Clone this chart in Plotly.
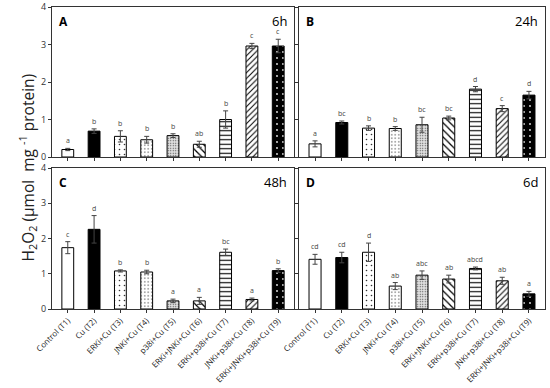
import plotly.graph_objects as go

categories = ["Control (T1)", "Cu (T2)", "ERKi+Cu (T3)", "JNKi+Cu (T4)", "p38i+Cu (T5)",
              "ERKi+JNKi+Cu (T6)", "ERKi+p38i+Cu (T7)", "JNKi+p38i+Cu (T8)", "ERKi+JNKi+p38i+Cu (T9)"]

vals_6h = [0.20, 0.69, 0.55, 0.46, 0.57, 0.34, 1.00, 2.96, 2.96]
err_6h = [0.03, 0.06, 0.15, 0.09, 0.05, 0.08, 0.23, 0.07, 0.18]
let_6h = ["a", "b", "b", "b", "b", "ab", "b", "c", "c"]

vals_24h = [0.35, 0.92, 0.77, 0.76, 0.86, 1.04, 1.81, 1.29, 1.65]
err_24h = [0.08, 0.04, 0.06, 0.05, 0.20, 0.05, 0.07, 0.08, 0.10]
let_24h = ["a", "bc", "b", "b", "bc", "bc", "d", "c", "d"]

vals_48h = [1.74, 2.26, 1.08, 1.05, 0.23, 0.23, 1.61, 0.27, 1.09]
err_48h = [0.17, 0.39, 0.03, 0.05, 0.05, 0.10, 0.09, 0.04, 0.05]
let_48h = ["c", "d", "b", "b", "a", "a", "bc", "a", "b"]

vals_6d = [1.41, 1.46, 1.61, 0.65, 0.96, 0.85, 1.15, 0.80, 0.43]
err_6d = [0.14, 0.15, 0.26, 0.10, 0.12, 0.11, 0.04, 0.10, 0.07]
let_6d = ["cd", "cd", "d", "ab", "abc", "ab", "abcd", "ab", "a"]

panels = [("A", "6h", vals_6h, err_6h, let_6h),
          ("B", "24h", vals_24h, err_24h, let_24h),
          ("C", "48h", vals_48h, err_48h, let_48h),
          ("D", "6d", vals_6d, err_6d, let_6d)]

# bar fills
shapes = ["", "", ".", ".", ".", "\\", "-", "/", "."]
bg = ["white", "black", "white", "white", "#e0e0e0", "white", "white", "white", "black"]
fg = ["black", "black", "#333333", "#333333", "#444444", "black", "black", "black", "#eeeeee"]
psize = [6, 6, 5, 3.5, 2.5, 5, 4.5, 4, 6]
psol = [0.2, 0.2, 0.08, 0.12, 0.2, 0.25, 0.25, 0.25, 0.07]

W, H = 550, 388
xdoms = [(52, 294), (299, 545)]
ydoms = [(7, 157), (168, 309)]

fig = go.Figure()
FONT = "Open Sans"

for i, (lab, tlab, v, e, lets) in enumerate(panels):
    r, c = divmod(i, 2)
    ax = "" if i == 0 else str(i + 1)
    xa, ya = "x" + ax, "y" + ax
    for j in range(len(categories)):
        pat = dict(shape=shapes[j], bgcolor=bg[j], fgcolor=fg[j], size=psize[j],
                   solidity=psol[j], fillmode="replace")
        fig.add_trace(go.Bar(
            x=[categories[j]], y=[v[j]], xaxis=xa, yaxis=ya, width=0.45,
            marker=dict(color=bg[j], line=dict(color="black", width=1), pattern=pat),
            error_y=dict(type="data", array=[e[j]], visible=True, color="#444444",
                         thickness=1, width=2.5),
            showlegend=False))
    for cat, val, er, lt in zip(categories, v, e, lets):
        fig.add_annotation(x=cat, y=val + er, xref=xa, yref=ya, text=lt, showarrow=False,
                           yanchor="bottom", yshift=1, font=dict(size=7, color="#444444", family=FONT))
    x0, x1 = xdoms[c]
    y0, y1 = ydoms[r]
    xd = [x0 / W, x1 / W]
    yd = [1 - y1 / H, 1 - y0 / H]
    fig.update_layout(**{
        ("xaxis" + ax): dict(domain=xd, anchor=ya, showline=True, linecolor="#333333", mirror=True,
                              ticks="outside", ticklen=3, tickcolor="#333333",
                              showticklabels=(r == 1), tickangle=-45,
                              tickfont=dict(size=8, color="#222222", family=FONT),
                              automargin=False, range=[-0.6, 8.6]),
        ("yaxis" + ax): dict(domain=yd, anchor=xa, range=[0, 4], dtick=1, showline=True,
                              linecolor="#333333", mirror=True, ticks="outside", ticklen=3,
                              tickcolor="#333333", showgrid=False, zeroline=False,
                              showticklabels=(c == 0), automargin=False,
                              tickfont=dict(size=9, color="#333333", family=FONT)),
    })
    fig.add_annotation(x=(x0 + 5) / W, y=1 - (y0 + 4) / H, xref="paper", yref="paper", text="<b>" + lab + "</b>",
                       showarrow=False, xanchor="left", yanchor="top",
                       font=dict(size=12, color="black", family=FONT))
    fig.add_annotation(x=(x1 - 5) / W, y=1 - (y0 + 3) / H, xref="paper", yref="paper", text=tlab,
                       showarrow=False, xanchor="right", yanchor="top",
                       font=dict(size=13, color="black", family=FONT))

fig.add_annotation(x=13 / W, y=1 - 168 / H, xref="paper", yref="paper",
                   text="H<sub>2</sub>O<sub>2</sub> (µmol  mg <sup>-1</sup> protein)",
                   textangle=-90, showarrow=False, font=dict(size=15.5, color="#222222", family=FONT))

fig.update_layout(width=W, height=H, margin=dict(l=0, r=0, t=0, b=0), barmode="overlay",
                  plot_bgcolor="white", paper_bgcolor="white")

fig.write_html("out.html", config={"displayModeBar": False},
               post_script="document.body.style.margin='0';document.body.style.overflow='hidden';")
